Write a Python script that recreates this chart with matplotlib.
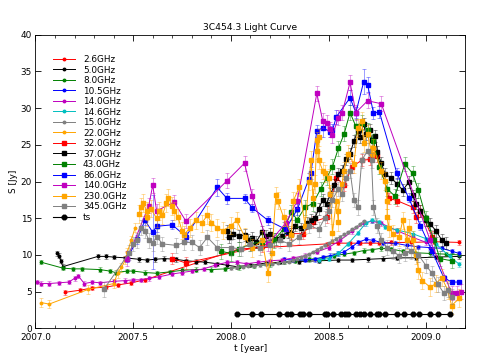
import matplotlib
matplotlib.use("Agg")
import matplotlib.pyplot as plt
from matplotlib.colors import to_rgba
from matplotlib.ticker import MultipleLocator

# ---- data (t in years, S in Jy) ----
t26 = [2007.15, 2007.23, 2007.29, 2007.36, 2007.42, 2007.49, 2007.56, 2008.04, 2008.49,
       2008.55, 2008.61, 2008.66, 2008.71, 2008.76, 2008.82, 2008.92, 2009.04, 2009.17]
s26 = [4.9, 5.2, 5.5, 5.6, 5.9, 6.2, 6.6, 10.8, 11.5, 11.6, 11.6, 11.6, 11.6, 11.6, 11.7,
       11.7, 11.8, 11.7]

t5 = [2007.11, 2007.12, 2007.13, 2007.14, 2007.32, 2007.36, 2007.40, 2007.46, 2007.53,
      2007.57, 2007.61, 2007.66, 2007.72, 2007.77, 2007.82, 2007.87, 2007.93, 2007.98,
      2008.03, 2008.10, 2008.18, 2008.25, 2008.35, 2008.45, 2008.55, 2008.62, 2008.70,
      2008.78, 2008.85, 2008.95, 2009.05, 2009.17]
s5 = [10.2, 9.9, 9.2, 8.4, 9.8, 9.8, 9.7, 9.6, 9.4, 9.3, 9.4, 9.5, 9.4, 9.2, 9.1, 9.0,
      8.8, 8.6, 8.4, 8.6, 8.9, 9.0, 9.1, 9.2, 9.3, 9.3, 9.4, 9.5, 9.6, 9.6, 9.7, 9.8]

t8 = [2007.03, 2007.14, 2007.19, 2007.24, 2007.33, 2007.38, 2007.41, 2007.47, 2007.50,
      2007.56, 2007.62, 2007.69, 2007.75, 2007.82, 2007.90, 2007.97, 2008.04, 2008.12,
      2008.20, 2008.27, 2008.33, 2008.40, 2008.47, 2008.53, 2008.58, 2008.63, 2008.68,
      2008.72, 2008.77, 2008.82, 2008.88, 2008.94, 2009.02, 2009.10, 2009.17]
s8 = [9.0, 8.2, 8.1, 8.1, 8.0, 7.8, 7.6, 7.8, 7.8, 7.6, 7.5, 7.7, 7.9, 8.0, 8.0, 8.1,
      8.3, 8.5, 8.7, 9.0, 9.2, 9.4, 9.6, 9.9, 10.1, 10.3, 10.6, 10.7, 10.9, 10.8, 10.5,
      10.3, 10.2, 10.1, 10.0]

t105 = [2008.27, 2008.32, 2008.38, 2008.43, 2008.47, 2008.51, 2008.55, 2008.58, 2008.62,
        2008.65, 2008.69, 2008.73, 2008.78, 2008.84, 2008.90, 2008.96, 2009.02, 2009.08,
        2009.13, 2009.17]
s105 = [9.4, 9.3, 9.3, 9.4, 9.7, 9.9, 10.2, 10.4, 11.1, 11.7, 12.1, 12.0, 11.6, 11.6,
        11.3, 11.1, 11.0, 10.9, 10.5, 10.2]

t14 = [2007.01, 2007.03, 2007.07, 2007.12, 2007.17, 2007.20, 2007.22, 2007.25, 2007.29,
       2007.33, 2007.40, 2007.46, 2007.50, 2007.54, 2007.58, 2007.63, 2007.70, 2007.75,
       2007.80, 2007.86, 2007.92, 2007.98, 2008.03, 2008.08, 2008.14, 2008.20, 2008.26,
       2008.32, 2008.38, 2008.44, 2008.50, 2008.56, 2008.62, 2008.68, 2008.72, 2008.77,
       2008.85, 2008.93, 2009.00]
s14 = [6.3, 6.1, 6.1, 6.2, 6.3, 6.8, 7.1, 6.1, 6.3, 6.2, 6.4, 6.5, 6.6, 6.6, 6.8, 7.0,
       7.4, 7.6, 7.8, 8.1, 8.6, 9.0, 9.0, 8.8, 9.0, 9.2, 9.3, 9.6, 9.9, 10.4, 11.0, 12.0,
       13.2, 14.3, 14.6, 14.3, 13.3, 12.4, 11.7]

t146 = [2008.45, 2008.50, 2008.55, 2008.60, 2008.65, 2008.69, 2008.72, 2008.76, 2008.79,
        2008.85, 2008.93, 2009.00, 2009.05, 2009.12, 2009.17]
s146 = [9.3, 9.5, 10.2, 11.5, 13.0, 14.3, 14.7, 14.5, 13.8, 13.4, 12.9, 12.2, 11.5, 9.8, 8.7]

t15 = [2008.00, 2008.03, 2008.06, 2008.09, 2008.12, 2008.15, 2008.18, 2008.21, 2008.24,
       2008.27, 2008.30, 2008.32, 2008.34, 2008.36, 2008.38, 2008.40, 2008.42, 2008.44,
       2008.46, 2008.48, 2008.50, 2008.52, 2008.54, 2008.56, 2008.58, 2008.60, 2008.62,
       2008.64, 2008.66, 2008.68]
s15 = [8.2, 8.3, 8.4, 8.5, 8.5, 8.6, 8.7, 8.8, 8.9, 9.0, 9.1, 9.3, 9.5, 9.7, 9.9, 10.1,
       10.4, 10.7, 11.0, 11.3, 11.6, 11.9, 12.2, 12.5, 12.8, 13.1, 13.5, 13.8, 14.2, 14.6]

t22 = [2007.03, 2007.07, 2007.27, 2007.40, 2007.42, 2007.44, 2007.46, 2007.47, 2007.49,
       2007.51]
s22 = [3.5, 3.3, 5.3, 6.1, 7.5, 8.3, 9.3, 10.4, 12.0, 13.7]

t32 = [2007.70, 2007.77, 2008.16, 2008.31, 2008.37, 2008.42, 2008.49, 2008.54, 2008.58,
       2008.62, 2008.67, 2008.71, 2008.75, 2008.81, 2008.85, 2008.93, 2008.95, 2008.97,
       2009.03]
s32 = [9.5, 8.9, 11.2, 12.9, 12.9, 14.5, 15.1, 20.5, 19.5, 22.0, 22.9, 23.0, 23.5, 17.7,
       17.4, 16.5, 15.1, 16.0, 12.5]

t37 = [2007.98, 2007.99, 2008.01, 2008.04, 2008.07, 2008.09, 2008.11, 2008.13, 2008.16,
       2008.18, 2008.20, 2008.23, 2008.26, 2008.29, 2008.31, 2008.33, 2008.36, 2008.39,
       2008.41, 2008.43, 2008.45, 2008.47, 2008.49, 2008.51, 2008.53, 2008.55, 2008.57,
       2008.59, 2008.61, 2008.63, 2008.65, 2008.66, 2008.68, 2008.69, 2008.71, 2008.72,
       2008.74, 2008.75, 2008.77, 2008.79, 2008.82, 2008.85, 2008.88, 2008.91, 2008.93,
       2008.95, 2008.97, 2009.00, 2009.02, 2009.05, 2009.08, 2009.10]
s37 = [13.3, 12.4, 12.9, 12.6, 12.7, 12.0, 12.3, 11.8, 13.1, 12.6, 12.9, 12.2, 12.6, 13.1,
       12.8, 14.0, 13.6, 14.3, 14.8, 15.0, 16.3, 17.5, 17.0, 18.3, 19.5, 21.0, 21.5, 23.0,
       23.8, 25.5, 26.9, 26.0, 27.9, 26.5, 27.0, 25.6, 26.2, 24.0, 22.5, 21.0, 20.5, 19.7,
       18.8, 19.9, 18.1, 17.0, 16.0, 14.7, 14.2, 13.3, 12.0, 11.6]

t43 = [2007.95, 2008.00, 2008.04, 2008.10, 2008.16, 2008.22, 2008.27, 2008.31, 2008.34,
       2008.38, 2008.42, 2008.46, 2008.49, 2008.52, 2008.55, 2008.58, 2008.61, 2008.64,
       2008.67, 2008.70, 2008.73, 2008.76, 2008.80, 2008.84, 2008.89, 2008.93, 2008.96,
       2009.00, 2009.04, 2009.07, 2009.13]
s43 = [10.5, 10.2, 10.8, 11.5, 11.8, 12.0, 13.5, 15.8, 14.8, 16.5, 17.0, 19.0, 20.5, 22.0,
       24.5, 26.5, 29.4, 27.5, 28.0, 27.0, 25.5, 22.0, 19.0, 18.0, 22.4, 21.1, 18.8, 15.0,
       12.0, 9.5, 9.2]

t86 = [2007.47, 2007.52, 2007.56, 2007.60, 2007.62, 2007.70, 2007.77, 2007.93, 2007.98,
       2008.07, 2008.11, 2008.19, 2008.28, 2008.34, 2008.40, 2008.41, 2008.44, 2008.47,
       2008.51, 2008.52, 2008.54, 2008.61, 2008.64, 2008.68, 2008.70, 2008.73, 2008.76,
       2008.85, 2008.91, 2008.97, 2009.03, 2009.09, 2009.13, 2009.17]
s86 = [9.5, 12.1, 14.7, 13.1, 13.9, 14.1, 12.5, 19.2, 17.7, 17.7, 16.4, 14.7, 13.5, 16.2,
       20.4, 21.2, 26.9, 27.3, 26.8, 27.0, 28.8, 31.4, 29.4, 33.6, 33.2, 29.3, 29.5, 21.1,
       17.8, 14.0, 10.5, 6.9, 6.3, 6.3]
e86 = [0.5, 0.6, 0.6, 5.0, 0.8, 0.6, 0.6, 1.2, 0.8, 0.6, 0.6, 0.6, 0.6, 0.8, 0.8, 0.8, 0.8,
       1.2, 0.8, 0.8, 1.0, 1.0, 0.8, 1.7, 1.0, 0.8, 0.8, 0.8, 0.6, 0.6, 0.5, 0.4, 0.3, 0.3]

t140 = [2007.47, 2007.58, 2007.60, 2007.62, 2007.71, 2007.77, 2007.98, 2008.07, 2008.11,
        2008.19, 2008.28, 2008.34, 2008.44, 2008.47, 2008.49, 2008.51, 2008.52, 2008.55,
        2008.57, 2008.61, 2008.64, 2008.70, 2008.77, 2009.02, 2009.13, 2009.16, 2009.18]
s140 = [9.5, 16.7, 19.5, 16.0, 17.2, 14.6, 20.1, 22.5, 18.0, 11.5, 14.3, 17.4, 32.0, 28.3,
        28.0, 27.1, 26.3, 28.7, 29.4, 33.5, 29.4, 31.0, 30.6, 12.0, 4.8, 4.8, 5.0]

t230 = [2007.53, 2007.54, 2007.55, 2007.57, 2007.57, 2007.59, 2007.62, 2007.63, 2007.65, 2007.67,
        2007.68, 2007.70, 2007.71, 2007.73, 2007.75, 2007.76, 2007.79, 2007.82, 2007.85, 2007.88,
        2007.90, 2007.93, 2007.96, 2008.00, 2008.03, 2008.07, 2008.11, 2008.16, 2008.19, 2008.21,
        2008.23, 2008.24, 2008.27, 2008.31, 2008.32, 2008.35, 2008.38, 2008.40, 2008.41, 2008.42,
        2008.43, 2008.44, 2008.44, 2008.45, 2008.45, 2008.47, 2008.48, 2008.50, 2008.51, 2008.52,
        2008.54, 2008.55, 2008.55, 2008.57, 2008.58, 2008.60, 2008.63, 2008.65, 2008.67, 2008.68,
        2008.70, 2008.72, 2008.73, 2008.77, 2008.79, 2008.80, 2008.80, 2008.81, 2008.83, 2008.86,
        2008.88, 2008.90, 2008.91, 2008.93, 2008.95, 2008.96, 2008.98, 2009.02, 2009.05, 2009.08,
        2009.11, 2009.13, 2009.17]
s230 = [15.6, 16.5, 17.1, 16.0, 15.1, 16.3, 15.0, 16.0, 15.4, 17.1,
        17.8, 16.7, 16.0, 15.1, 13.3, 12.7, 13.7, 14.7, 14.3, 15.4,
        14.4, 13.7, 13.3, 14.0, 14.7, 12.5, 10.9, 12.0, 7.5, 10.2,
        18.1, 17.4, 15.1, 12.7, 17.4, 19.2, 14.0, 20.0, 22.9, 17.8,
        19.7, 25.6, 24.2, 26.0, 22.9, 21.5, 21.1, 20.5, 18.3, 13.0,
        17.4, 14.5, 16.0, 19.7, 21.5, 23.8, 22.4, 27.3, 28.3, 25.2,
        26.5, 23.8, 24.6, 21.5, 20.1, 17.4, 15.1, 13.7, 12.9, 12.4,
        14.7, 12.0, 13.7, 12.0, 10.0, 7.9, 6.5, 5.6, 6.1, 6.9,
        5.2, 3.1, 4.1]

t345 = [2007.35, 2007.48, 2007.50, 2007.52, 2007.54, 2007.56, 2007.58, 2007.60, 2007.62,
        2007.65, 2007.72, 2007.76, 2007.80, 2007.84, 2007.88, 2007.93, 2008.00, 2008.05,
        2008.10, 2008.15, 2008.20, 2008.25, 2008.30, 2008.35, 2008.40, 2008.45, 2008.48,
        2008.50, 2008.52, 2008.55, 2008.57, 2008.59, 2008.61, 2008.63, 2008.65, 2008.67,
        2008.70, 2008.72, 2008.73, 2008.75, 2008.77, 2008.80, 2008.83, 2008.86, 2008.89,
        2008.92, 2008.96, 2009.00, 2009.03, 2009.06, 2009.09, 2009.11, 2009.13]
s345 = [5.3, 10.3, 11.5, 12.0, 13.7, 13.3, 12.0, 11.6, 12.5, 11.5, 11.3, 11.7, 11.7, 11.0,
        12.4, 11.0, 11.0, 10.8, 11.5, 11.0, 11.3, 12.0, 11.5, 12.5, 14.0, 13.5, 15.0, 16.0,
        17.5, 19.0, 18.3, 20.5, 21.5, 17.5, 16.5, 22.9, 24.2, 22.9, 16.5, 14.0, 12.0, 11.0,
        10.5, 9.9, 10.2, 10.5, 10.0, 8.5, 7.5, 6.0, 4.8, 5.2, 4.3]

t_ts = [2008.032, 2008.106, 2008.152, 2008.245, 2008.285, 2008.309, 2008.354, 2008.371,
        2008.398, 2008.482, 2008.492, 2008.524, 2008.565, 2008.582, 2008.600, 2008.642,
        2008.661, 2008.679, 2008.710, 2008.746, 2008.756, 2008.787, 2008.850, 2008.884,
        2008.932, 2008.961, 2009.020, 2009.061, 2009.121]
s_ts = [2.0] * len(t_ts)

# (label, t, S, yerr, colour, marker)
series = [
    ("2.6GHz", t26, s26, 0.3, "r", "o"),
    ("5.0GHz", t5, s5, 0.3, "k", "o"),
    ("8.0GHz", t8, s8, 0.3, "g", "o"),
    ("10.5GHz", t105, s105, 0.3, "b", "o"),
    ("14.0GHz", t14, s14, 0.3, "m", "o"),
    ("14.6GHz", t146, s146, 0.3, "c", "o"),
    ("15.0GHz", t15, s15, 0.2, "gray", "o"),
    ("22.0GHz", t22, s22, 0.6, "orange", "o"),
    ("32.0GHz", t32, s32, 0.8, "r", "s"),
    ("37.0GHz", t37, s37, 0.8, "k", "s"),
    ("43.0GHz", t43, s43, 1.0, "g", "s"),
    ("86.0GHz", t86, s86, e86, "b", "s"),
    ("140.0GHz", t140, s140, 1.0, "m", "s"),
    ("230.0GHz", t230, s230, 1.2, "orange", "s"),
    ("345.0GHz", t345, s345, 1.0, "gray", "s"),
]

plt.rcParams["font.family"] = "DejaVu Sans"
plt.rcParams["font.size"] = 6.4

fig = plt.figure(figsize=(4.79, 3.59), dpi=100)
ax = fig.add_axes([0.0741, 0.0855, 0.8973, 0.8178])

for label, t, s, err, c, mk in series:
    ms = 1.8 if mk == "o" else 2.4
    ax.errorbar(t, s, yerr=err, fmt="none", ecolor=to_rgba(c, 0.45),
                elinewidth=0.6, capsize=1.3, capthick=0.6)
    ax.plot(t, s, color=c, marker=mk, ms=ms, mec=c, lw=0.7, label=label)

ax.plot(t_ts, s_ts, color="k", marker="8", ms=3.5, lw=0.8, label="ts")

ax.set_xlim(2007.0, 2009.2)
ax.set_ylim(0, 40)
ax.xaxis.set_major_locator(MultipleLocator(0.5))
ax.xaxis.set_minor_locator(MultipleLocator(0.1))
ax.yaxis.set_major_locator(MultipleLocator(5))
ax.tick_params(which="both", direction="in", top=True, right=True, labelsize=6.4)
ax.tick_params(axis="x", pad=3.6)
ax.tick_params(axis="y", pad=2.5)
ax.tick_params(which="major", length=4, width=0.6)
ax.tick_params(which="minor", length=2, width=0.5)
for sp in ax.spines.values():
    sp.set_linewidth(0.6)

ax.set_title("3C454.3 Light Curve", fontsize=6.6, pad=3.5)
ax.set_xlabel("t [year]", fontsize=6.4, labelpad=1)
ax.set_ylabel("S [Jy]", fontsize=6.4, labelpad=2)

ax.legend(loc="upper left", bbox_to_anchor=(0.032, 0.943), borderaxespad=0,
          frameon=False, numpoints=1, fontsize=6.4, labelspacing=0.17,
          handlelength=2.5, handletextpad=0.9)

fig.savefig("out.png", dpi=100)
